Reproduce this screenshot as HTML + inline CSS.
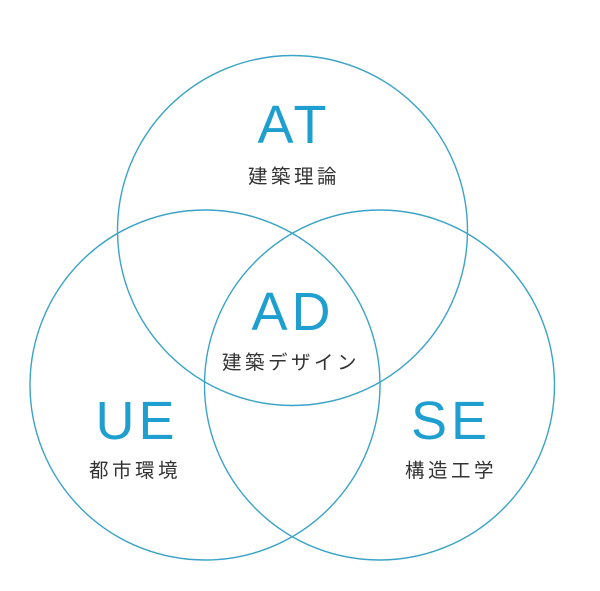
<!DOCTYPE html>
<html><head><meta charset="utf-8"><style>
html,body{margin:0;padding:0;background:#fff;width:600px;height:591px;overflow:hidden}
</style></head><body>
<svg width="600" height="591" viewBox="0 0 600 591" xmlns="http://www.w3.org/2000/svg">
<g fill="none" stroke="#3ba3c6" stroke-width="1.4">
<circle cx="292.5" cy="230.5" r="175"/>
<circle cx="205" cy="385" r="175"/>
<circle cx="379.5" cy="385" r="175"/>
</g>
<g font-family="Liberation Sans, sans-serif" fill="#1f9fd0" font-size="54" text-anchor="middle" letter-spacing="4">
<text x="294" y="143">AT</text>
<text x="293" y="330">AD</text>
<text x="137" y="439">UE</text>
<text x="451" y="439">SE</text>
</g>
<g font-family="Liberation Sans, 'Noto Sans CJK JP', sans-serif" fill="#333" font-size="19.5" text-anchor="middle" letter-spacing="3.5">
<text x="294" y="183">建築理論</text>
<text x="291" y="369">建築デザイン</text>
<text x="135" y="477">都市環境</text>
<text x="451" y="477">構造工学</text>
</g>
</svg>
</body></html>
